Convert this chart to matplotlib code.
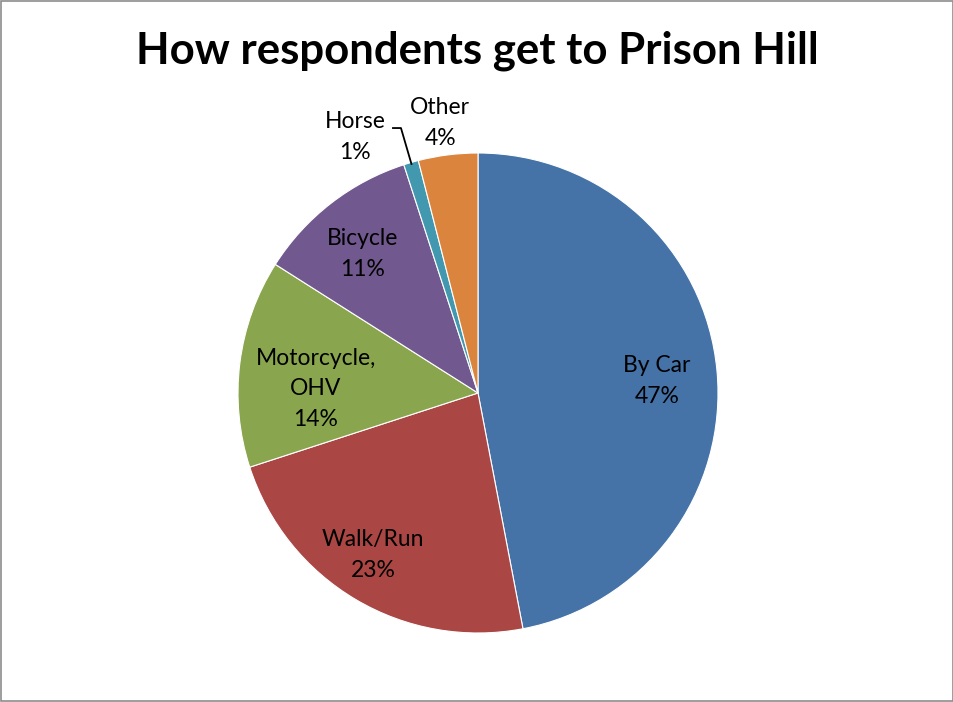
import matplotlib
matplotlib.use("Agg")
import matplotlib.pyplot as plt
import numpy as np
from matplotlib.patches import Rectangle

categories = ["By Car", "Walk/Run", "Motorcycle,\nOHV", "Bicycle", "Horse", "Other"]
values = [47, 23, 14, 11, 1, 4]
colors = ["#4572A7", "#AA4643", "#89A54E", "#71588F", "#4198AF", "#DB843D"]
title = "How respondents get to Prison Hill"

plt.rcParams['font.family'] = ['Lato', 'DejaVu Sans']

W, H = 954, 702
cx, cy, R = 478, 393, 240
fig = plt.figure(figsize=(W / 100, H / 100), dpi=100)
ax = fig.add_axes([0, 0, 1, 1])

wedges, _ = ax.pie(values, colors=colors, startangle=90, counterclock=False,
                   radius=1.0, center=(0, 0), frame=True,
                   wedgeprops=dict(edgecolor='white', linewidth=0.8))
ax.set_xlim(-cx / R, (W - cx) / R)
ax.set_ylim(-(H - cy) / R, cy / R)
ax.set_aspect('auto')
ax.axis('off')

# label positions (data units, relative to pie centre)
label_pos = [(0.746, 0.05), (-0.4375, -0.675), (-0.675, 0.017),
             (-0.483, 0.58), (-0.5125, 1.067), (-0.158, 1.125)]
for name, v, (x, y) in zip(categories, values, label_pos):
    ax.text(x, y, f"{name}\n{v}%", ha='center', va='center', fontsize=16.5,
            color='black', linespacing=1.58)

# leader line for Horse
hw = wedges[4]
mid = np.deg2rad((hw.theta1 + hw.theta2) / 2)
ex, ey = 0.99 * np.cos(mid), 0.99 * np.sin(mid)
ax.plot([-0.358, -0.321, ex], [1.104, 1.104, ey], color='black', lw=1.3,
        solid_capstyle='butt')

fig.text(0.5, 1 - 51 / H, title, ha='center', va='center', fontsize=31.5,
         fontweight='bold')
fig.patches.append(Rectangle((0.6 / W, 1.0 / H), 1 - 1.2 / W, 1 - 1.5 / H,
                             transform=fig.transFigure, fill=False,
                             edgecolor='#8c8c8c', lw=1.2))
fig.savefig("out.png", dpi=100)
